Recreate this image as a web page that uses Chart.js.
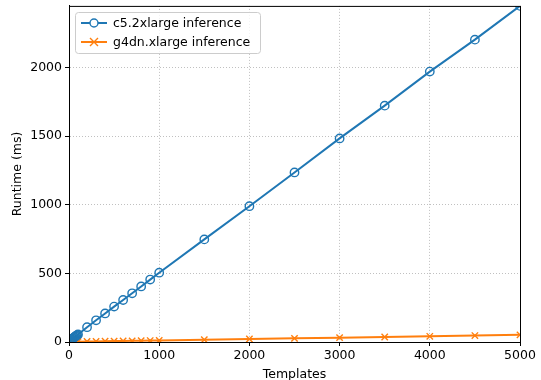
<!DOCTYPE html>
<html lang="en">
<head>
  <meta charset="UTF-8">
  <title>Runtime vs Templates</title>
  <style>
    html, body { margin: 0; padding: 0; background: #ffffff; }
    #wrap { width: 541px; height: 380px; }
  </style>
</head>
<body>
  <div id="wrap"><canvas id="runtimeChart" width="541" height="380"></canvas></div>

  <script src="https://cdn.jsdelivr.net/npm/chart.js"></script>
  <script>
    // values
    const templates = [1, 10, 20, 30, 40, 50, 60, 70, 80, 90, 100,
      200, 300, 400, 500, 600, 700, 800, 900, 1000,
      1500, 2000, 2500, 3000, 3500, 4000, 4500, 5000];
    const c5Runtime = [8, 12, 16, 20, 25, 30, 35, 40, 45, 50, 55,
      108, 158, 208, 258, 306, 355, 405, 455, 505,
      748, 990, 1236, 1484, 1723, 1971, 2204, 2450];
    const g4dnRuntime = [1.5, 1.6, 1.7, 1.8, 1.9, 2, 2.1, 2.2, 2.3, 2.4, 2.5,
      3.5, 4.5, 5.5, 6.5, 7.5, 8.5, 9.5, 10.5, 11.5,
      16.5, 21.5, 26.5, 31.5, 36.5, 41.5, 47, 52];
    const xTicks = [0, 1000, 2000, 3000, 4000, 5000];
    const yTicks = [0, 500, 1000, 1500, 2000];
    const seriesNames = ['c5.2xlarge inference', 'g4dn.xlarge inference'];

    const FONT = 'DejaVu Sans, sans-serif';
    const blue = '#1f77b4';
    const orange = '#ff7f0e';

    function toPoints(ys) {
      return templates.map((t, i) => ({ x: t, y: ys[i] }));
    }

    // matplotlib-like box around the axes and legend in the upper left
    const framePlugin = {
      id: 'frame',
      afterDraw(chart) {
        const { ctx, chartArea: a } = chart;
        ctx.save();
        ctx.strokeStyle = '#000';
        ctx.lineWidth = 1;
        ctx.strokeRect(a.left + 0.5, a.top + 0.5, a.right - a.left, a.bottom - a.top);

        // legend
        const bx = 75.5, by = 12.5, bw = 185, bh = 41, r = 3;
        ctx.fillStyle = 'rgba(255,255,255,0.8)';
        ctx.strokeStyle = '#cccccc';
        ctx.beginPath();
        ctx.roundRect(bx, by, bw, bh, r);
        ctx.fill();
        ctx.stroke();

        const rows = [
          { y: 23, color: blue, marker: 'circle' },
          { y: 42, color: orange, marker: 'x' }
        ];
        ctx.font = '12.5px ' + FONT;
        ctx.textBaseline = 'middle';
        rows.forEach((row, i) => {
          ctx.strokeStyle = row.color;
          ctx.lineWidth = 2;
          ctx.beginPath();
          ctx.moveTo(81, row.y);
          ctx.lineTo(107, row.y);
          ctx.stroke();
          ctx.lineWidth = 1.4;
          if (row.marker === 'circle') {
            ctx.fillStyle = '#fff';
            ctx.beginPath();
            ctx.arc(94, row.y, 4, 0, Math.PI * 2);
            ctx.fill();
            ctx.stroke();
          } else {
            ctx.beginPath();
            ctx.moveTo(90, row.y - 4); ctx.lineTo(98, row.y + 4);
            ctx.moveTo(98, row.y - 4); ctx.lineTo(90, row.y + 4);
            ctx.stroke();
          }
          ctx.fillStyle = '#000';
          ctx.fillText(seriesNames[i], 113, row.y + 1);
        });
        ctx.restore();
      }
    };

    const gridOpts = {
      color: '#b0b0b0',
      lineWidth: 0.8,
      drawTicks: true,
      tickLength: 4,
      tickColor: '#000',
      tickBorderDash: [],
      tickWidth: 1
    };
    const borderOpts = { display: true, color: '#000', width: 1, dash: [1, 2] };

    const ctx = document.getElementById('runtimeChart').getContext('2d');
    new Chart(ctx, {
      type: 'line',
      data: {
        datasets: [{
          label: seriesNames[0],
          data: toPoints(c5Runtime),
          borderColor: blue,
          backgroundColor: 'rgba(0,0,0,0)',
          borderWidth: 2,
          pointStyle: 'circle',
          pointRadius: 4.2,
          pointBorderWidth: 1.4,
          pointBorderColor: blue,
          pointBackgroundColor: 'rgba(0,0,0,0)',
          tension: 0,
          fill: false
        }, {
          label: seriesNames[1],
          data: toPoints(g4dnRuntime),
          borderColor: orange,
          backgroundColor: orange,
          borderWidth: 2,
          pointStyle: 'crossRot',
          pointRadius: 4.5,
          pointBorderWidth: 1.4,
          pointBorderColor: orange,
          tension: 0,
          fill: false
        }]
      },
      options: {
        responsive: false,
        animation: false,
        layout: { padding: { left: 10, top: 5, right: 21, bottom: 0 } },
        plugins: {
          legend: { display: false },
          tooltip: { enabled: false }
        },
        scales: {
          x: {
            type: 'linear',
            min: 0,
            max: 5000,
            afterBuildTicks(scale) { scale.ticks = xTicks.map(v => ({ value: v })); },
            afterFit(scale) {
              scale.height = 38;
              scale.paddingLeft = 0;
              scale.paddingRight = 0;
            },
            border: borderOpts,
            grid: gridOpts,
            ticks: {
              color: '#000',
              font: { family: FONT, size: 12.5 },
              padding: 2,
              maxRotation: 0,
              callback: v => String(v)
            },
            title: {
              display: true,
              text: 'Templates',
              color: '#000',
              font: { family: FONT, size: 12.5 },
              padding: { top: 2, bottom: -2 }
            }
          },
          y: {
            type: 'linear',
            min: 0,
            max: 2450,
            afterBuildTicks(scale) { scale.ticks = yTicks.map(v => ({ value: v })); },
            afterFit(scale) {
              scale.width = 59;
              scale.paddingTop = 0;
              scale.paddingBottom = 0;
            },
            border: borderOpts,
            grid: gridOpts,
            ticks: {
              color: '#000',
              font: { family: FONT, size: 12.5 },
              padding: 3,
              callback: v => String(v)
            },
            title: {
              display: true,
              text: 'Runtime (ms)',
              color: '#000',
              font: { family: FONT, size: 12.5 },
              padding: { top: 0, bottom: 4 }
            }
          }
        }
      },
      plugins: [framePlugin]
    });
  </script>
</body>
</html>
